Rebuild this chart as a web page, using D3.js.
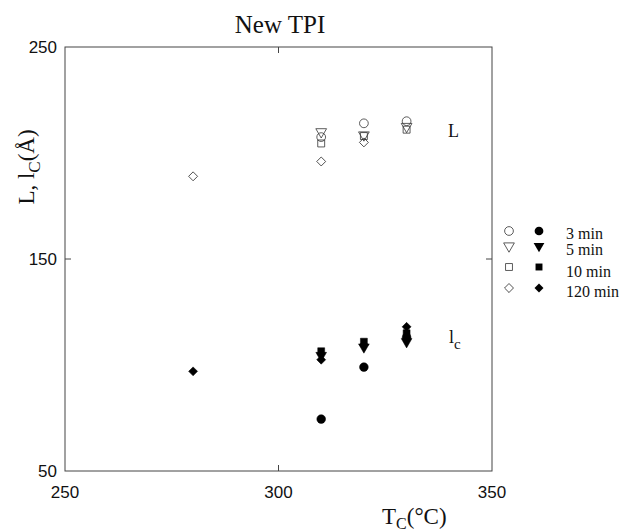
<!DOCTYPE html>
<html lang="en">
<head>
  <meta charset="UTF-8">
  <title>New TPI</title>
  <style>
    body { margin: 0; background: #fff; }
    .tick-label { font-family: "Liberation Sans", Arial, sans-serif; font-size: 17px; fill: #111; }
    .serif { font-family: "Liberation Serif", "Times New Roman", serif; fill: #111; }
  </style>
</head>
<body>
  <script src="https://d3js.org/d3.v7.min.js"></script>
  <svg id="chart" width="627" height="531"></svg>
  <script>
    // crystallization temperatures and times
    const legendTimes = ['3 min', '5 min', '10 min', '120 min']
    const xTicks = [250, 300, 350]
    const yTicks = [50, 150, 250]

    // long period L (open symbols), [Tc, value]
    const L3 = [[310, 207.5], [320, 214], [330, 215]]
    const L5 = [[310, 210], [320, 208.5], [330, 212.5]]
    const L10 = [[310, 204.5], [320, 208], [330, 211]]
    const L120 = [[280, 189], [310, 196], [320, 205]]

    // crystal thickness lc (filled symbols)
    const lc3 = [[310, 74.5], [320, 99], [330, 113]]
    const lc5 = [[310, 104.5], [320, 108.5], [330, 111]]
    const lc10 = [[310, 106.5], [320, 111], [330, 115]]
    const lc120 = [[280, 97], [310, 102.5], [320, 109.5], [330, 118]]

    const svg = d3.select('#chart')
    const x = d3.scaleLinear().domain([250, 350]).range([65, 492])
    const y = d3.scaleLinear().domain([50, 250]).range([471, 47])

    // frame
    svg.append('rect')
      .attr('x', x(250)).attr('y', y(250))
      .attr('width', x(350) - x(250)).attr('height', y(50) - y(250))
      .attr('fill', 'none').attr('stroke', '#444').attr('stroke-width', 1)

    // inward ticks on all four sides
    let ax = svg.append('g').attr('stroke', '#444')
    xTicks.slice(1, -1).forEach(t => {
      ax.append('line').attr('x1', x(t)).attr('x2', x(t)).attr('y1', y(50)).attr('y2', y(50) - 6)
      ax.append('line').attr('x1', x(t)).attr('x2', x(t)).attr('y1', y(250)).attr('y2', y(250) + 6)
    })
    yTicks.slice(1, -1).forEach(t => {
      ax.append('line').attr('x1', x(250)).attr('x2', x(250) + 6).attr('y1', y(t)).attr('y2', y(t))
      ax.append('line').attr('x1', x(350)).attr('x2', x(350) - 6).attr('y1', y(t)).attr('y2', y(t))
    })

    svg.selectAll('.xl').data(xTicks).enter().append('text')
      .attr('class', 'tick-label')
      .attr('x', d => x(d)).attr('y', y(50) + 27)
      .attr('text-anchor', 'middle')
      .text(d => d)
    svg.selectAll('.yl').data(yTicks).enter().append('text')
      .attr('class', 'tick-label')
      .attr('x', x(250) - 8).attr('y', d => y(d) + 6)
      .attr('text-anchor', 'end')
      .text(d => d)

    // title and axis titles
    svg.append('text').attr('class', 'serif')
      .attr('x', 280).attr('y', 33).attr('text-anchor', 'middle')
      .style('font-size', '25px').text('New TPI')

    let xt = svg.append('text').attr('class', 'serif')
      .attr('x', 382).attr('y', 524).style('font-size', '23px')
    xt.append('tspan').text('T')
    xt.append('tspan').attr('dy', 5).style('font-size', '16px').text('C')
    xt.append('tspan').attr('dy', -5).text('(°C)')

    let yt = svg.append('text').attr('class', 'serif')
      .attr('transform', 'translate(34,167) rotate(-90)')
      .attr('text-anchor', 'middle').style('font-size', '23px')
    yt.append('tspan').text('L, l')
    yt.append('tspan').attr('dy', 6).style('font-size', '17px').text('C')
    yt.append('tspan').attr('dy', -6).text('(Å)')

    // curve labels
    svg.append('text').attr('class', 'serif')
      .attr('x', 448).attr('y', 137).style('font-size', '18px').text('L')
    let lcl = svg.append('text').attr('class', 'serif')
      .attr('x', 449).attr('y', 343).style('font-size', '18px')
    lcl.append('tspan').text('l')
    lcl.append('tspan').attr('dy', 6).style('font-size', '15px').text('c')

    // symbols: circle, down triangle, square, diamond
    const shapes = [
      { type: d3.symbolCircle, size: 60, rot: 0 },
      { type: d3.symbolTriangle, size: 50, rot: 180 },
      { type: d3.symbolSquare, size: 48, rot: 0 },
      { type: d3.symbolSquare, size: 40, rot: 45 }
    ]
    const openSets = [L3, L5, L10, L120]
    const fillSets = [lc3, lc5, lc10, lc120]

    function drawSet(data, i, filled) {
      let s = shapes[i]
      svg.append('g').selectAll('path').data(data).enter().append('path')
        .attr('d', d3.symbol().type(s.type).size(s.size))
        .attr('transform', d => `translate(${x(d[0])},${y(d[1])}) rotate(${s.rot})`)
        .attr('fill', filled ? '#000' : '#fff')
        .attr('fill-opacity', filled ? 1 : 0)
        .attr('stroke', filled ? '#000' : '#333')
        .attr('stroke-width', filled ? 0.5 : 0.8)
    }
    openSets.forEach((d, i) => drawSet(d, i, false))
    fillSets.forEach((d, i) => drawSet(d, i, true))

    // legend
    const legY = [231, 246, 267, 288]
    const textY = [239, 255, 277, 297]
    legendTimes.forEach((t, i) => {
      let s = shapes[i]
      svg.append('path')
        .attr('d', d3.symbol().type(s.type).size(s.size))
        .attr('transform', `translate(509,${legY[i]}) rotate(${s.rot})`)
        .attr('fill', 'none').attr('stroke', '#333').attr('stroke-width', 0.8)
      svg.append('path')
        .attr('d', d3.symbol().type(s.type).size(s.size))
        .attr('transform', `translate(539,${legY[i]}) rotate(${s.rot})`)
        .attr('fill', '#000')
      svg.append('text').attr('class', 'serif')
        .attr('x', 566).attr('y', textY[i]).style('font-size', '16px').text(t)
    })
  </script>
</body>
</html>
